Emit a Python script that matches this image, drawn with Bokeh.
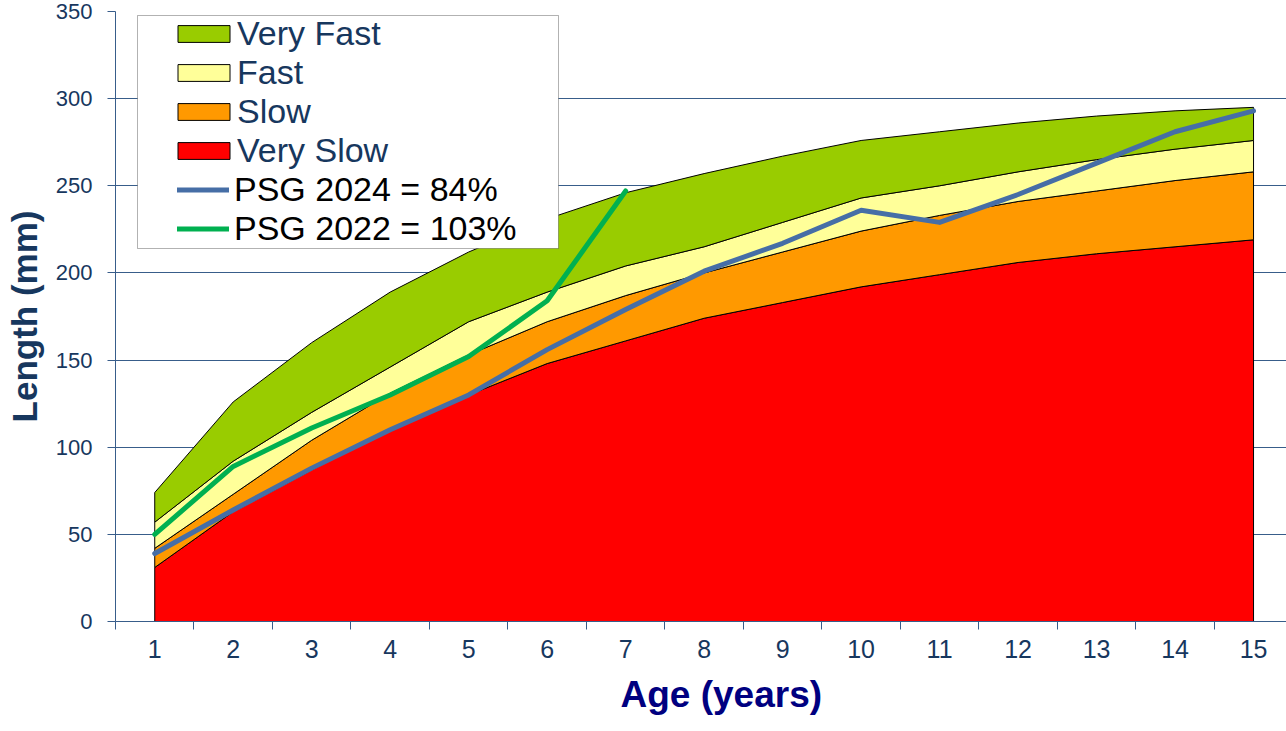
from bokeh.plotting import figure
from bokeh.models import Range1d, FixedTicker, Legend, LegendItem, BoxAnnotation, Title
from bokeh.embed import file_html
from bokeh.resources import INLINE

# ---- data ----
ages = list(range(1, 16))
very_slow = [31, 63, 87, 110, 130, 148, 161, 174, 183, 192, 199, 206, 211, 215, 219]
slow = [42, 73, 104, 131, 153, 172, 187, 200, 212, 224, 233, 241, 247, 253, 258]
fast = [57, 92, 120, 146, 172, 189, 204, 215, 229, 243, 250, 258, 265, 271, 276]
very_fast = [74, 126, 160, 189, 212, 231, 246, 257, 267, 276, 281, 286, 290, 293, 295]
psg_2024 = [39, 64, 88, 110, 130, 156, 179, 201, 217, 236, 229, 245, 263, 281, 293]
psg_2022 = [50, 89, 111, 130, 152, 184, 247]
psg_2022_ages = ages[:len(psg_2022)]
y_ticks = [0, 50, 100, 150, 200, 250, 300, 350]
baseline = [0] * len(ages)

NAVY = "#17375E"
AXIS = "#385D8A"
FONT = "Liberation Sans"

p = figure(width=1286, height=731, x_range=Range1d(0.5, 15.42), y_range=Range1d(0, 350),
           output_backend="svg", toolbar_location=None,
           min_border_left=115, min_border_right=0, min_border_top=11, min_border_bottom=110)
p.outline_line_color = None
p.background_fill_color = "white"

bands = [
    ("Very Slow", very_slow, baseline, "#FF0000"),
    ("Slow", slow, very_slow, "#FF9900"),
    ("Fast", fast, slow, "#FFFF99"),
    ("Very Fast", very_fast, fast, "#99CC00"),
]
band_r = {}
for name, top, bot, col in bands:
    xs = ages + ages[::-1]
    ys = top + bot[::-1]
    band_r[name] = p.patch(xs, ys, fill_color=col, line_color="black", line_width=1)

r24 = p.line(ages, psg_2024, line_color="#466EA6", line_width=5, line_cap="round", line_join="round")
r22 = p.line(psg_2022_ages, psg_2022, line_color="#00B050", line_width=5, line_cap="round", line_join="round")

# axes
p.xaxis.ticker = FixedTicker(ticks=ages, minor_ticks=[a - 0.5 for a in ages] + [15.5])
p.xaxis.major_tick_line_color = None
p.xaxis.minor_tick_out = 8
p.xaxis.minor_tick_in = 0
p.xaxis.minor_tick_line_color = AXIS
p.xaxis.axis_line_color = AXIS
p.xaxis.major_label_text_font = FONT
p.xaxis.major_label_text_font_size = "25px"
p.xaxis.major_label_text_color = NAVY
p.xaxis.major_label_standoff = 10

p.yaxis.ticker = FixedTicker(ticks=y_ticks)
p.yaxis.major_tick_out = 8
p.yaxis.major_tick_in = 0
p.yaxis.major_tick_line_color = AXIS
p.yaxis.minor_tick_line_color = None
p.yaxis.axis_line_color = AXIS
p.yaxis.major_label_text_font = FONT
p.yaxis.major_label_text_font_size = "22px"
p.yaxis.major_label_text_color = NAVY
p.yaxis.major_label_standoff = 15
p.yaxis.axis_label = "Length (mm)"
p.yaxis.axis_label_text_font = FONT
p.yaxis.axis_label_text_font_size = "35px"
p.yaxis.axis_label_text_font_style = "bold"
p.yaxis.axis_label_text_color = NAVY
p.yaxis.axis_label_standoff = 9

p.xgrid.visible = False
p.ygrid.grid_line_color = AXIS
p.ygrid.grid_line_width = 1

# x-axis title below the tick labels, shifted right as in the reference
xt = Title(text="Age (years)", align="left", offset=505, text_font=FONT, text_font_size="37px",
           text_font_style="bold", text_color="#000080", standoff=27, vertical_align="top")
p.add_layout(xt, "below")

# legend frame and legends
box = BoxAnnotation(left=22, right=443, top=606, bottom=373,
                    left_units="screen", right_units="screen", top_units="screen", bottom_units="screen",
                    fill_color="white", fill_alpha=1, line_color="black", line_width=1)
p.add_layout(box)

common = dict(orientation="vertical", padding=0, spacing=0, margin=0,
              label_height=39, label_text_font=FONT, label_text_font_size="34px",
              border_line_color=None, background_fill_alpha=0)
leg_a = Legend(items=[LegendItem(label="Very Fast", renderers=[band_r["Very Fast"]]),
                      LegendItem(label="Fast", renderers=[band_r["Fast"]]),
                      LegendItem(label="Slow", renderers=[band_r["Slow"]]),
                      LegendItem(label="Very Slow", renderers=[band_r["Very Slow"]])],
               location=(56, 451), glyph_width=65, glyph_height=21, label_standoff=1,
               label_text_color=NAVY, **common)
leg_b = Legend(items=[LegendItem(label="PSG 2024 = 84%", renderers=[r24]),
                      LegendItem(label="PSG 2022 = 103%", renderers=[r22])],
               location=(62, 373), glyph_width=52, glyph_height=17, label_standoff=5,
               label_text_color="black", **common)
p.add_layout(leg_a)
p.add_layout(leg_b)

open("out.html", "w").write(file_html(p, INLINE))
